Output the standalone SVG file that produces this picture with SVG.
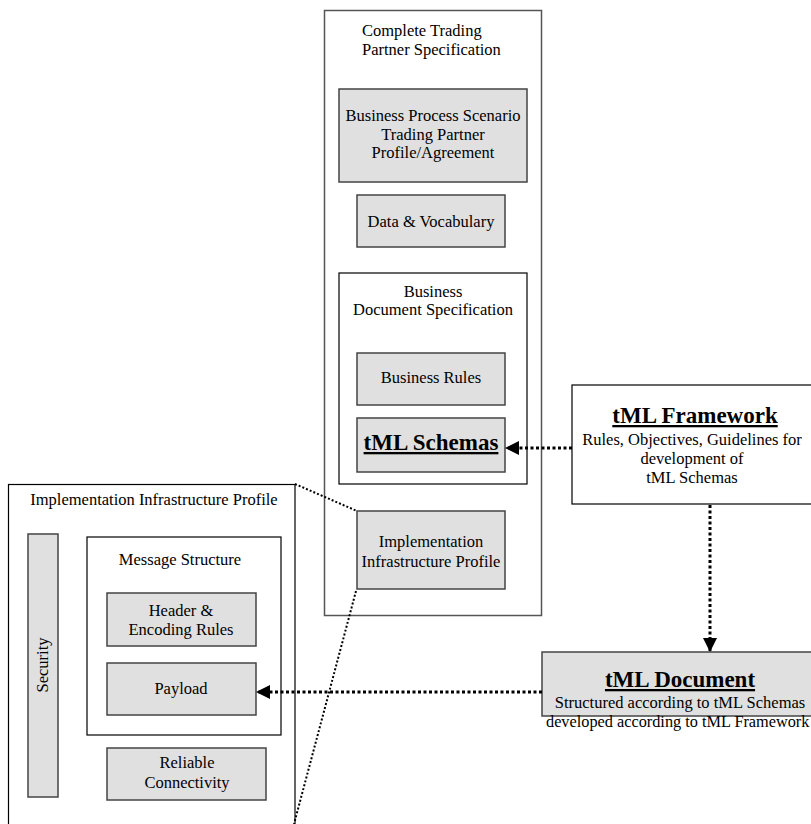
<svg xmlns="http://www.w3.org/2000/svg" width="811" height="824" viewBox="0 0 811 824">
<defs>
<style>
.t{font-family:"Liberation Serif","Times New Roman",serif;font-size:16.5px;fill:#000}
.c{text-anchor:middle}
.b{font-weight:bold;text-decoration:underline;font-size:23px}
.frame{fill:#fff;stroke:#555;stroke-width:1.5}
.frame2{fill:#fff;stroke:#000;stroke-width:1.2}
.shade{fill:#e0e0e0;stroke:#444;stroke-width:1.5}
.dot{fill:none;stroke:#000;stroke-width:3;stroke-dasharray:3 2.5}
.dotthin{fill:none;stroke:#000;stroke-width:2;stroke-dasharray:2 2}
</style>
<marker id="ah" viewBox="0 0 14 14" refX="13" refY="7" markerWidth="14" markerHeight="14" markerUnits="userSpaceOnUse" orient="auto">
<path d="M0,0 L14,7 L0,14 Z" fill="#000"/>
</marker>
</defs>
<rect width="811" height="824" fill="#fff"/>

<g id="trading-partner-spec">
<rect class="frame" x="324.5" y="10.5" width="217" height="605"/>
<text class="t" x="362" y="36">Complete Trading</text>
<text class="t" x="362" y="55">Partner Specification</text>
</g>
<g id="bps">
<rect class="shade" x="339" y="89" width="188" height="93"/>
<text class="t c" x="433" y="121">Business Process Scenario</text>
<text class="t c" x="433" y="140">Trading Partner</text>
<text class="t c" x="433" y="158">Profile/Agreement</text>
</g>
<g id="data-vocab">
<rect class="shade" x="357" y="195" width="148" height="52"/>
<text class="t c" x="431" y="227">Data &amp; Vocabulary</text>
</g>
<g id="business-doc-spec">
<rect class="frame2" x="339" y="273" width="188" height="211"/>
<text class="t c" x="433" y="297">Business</text>
<text class="t c" x="433" y="315">Document Specification</text>
</g>
<g id="business-rules">
<rect class="shade" x="357" y="353" width="148" height="52"/>
<text class="t c" x="431" y="383">Business Rules</text>
</g>
<g id="tml-schemas">
<rect class="shade" x="357" y="418" width="148" height="54"/>
<text class="t c b" x="431" y="450">tML Schemas</text>
</g>
<g id="impl-small">
<rect class="shade" x="357" y="511" width="148" height="78"/>
<text class="t c" x="431" y="547">Implementation</text>
<text class="t c" x="431" y="567">Infrastructure Profile</text>
</g>

<g id="tml-framework">
<rect class="frame2" x="572" y="385" width="245" height="119"/>
<text class="t c b" x="695" y="423">tML Framework</text>
<text class="t c" x="692" y="445">Rules, Objectives, Guidelines for</text>
<text class="t c" x="692" y="464">development of</text>
<text class="t c" x="692" y="483">tML Schemas</text>
</g>
<g id="tml-document">
<rect class="shade" x="542" y="652" width="278" height="64"/>
<text class="t c b" x="680" y="687">tML Document</text>
<text class="t c" x="680" y="708">Structured according to tML Schemas</text>
<text class="t" x="546" y="727" style="font-size:16.3px">developed according to tML Framework</text>
</g>

<g id="impl-profile">
<rect class="frame2" x="8.5" y="484.5" width="286.5" height="345"/>
<text class="t c" x="154" y="505">Implementation Infrastructure Profile</text>
</g>
<g id="security">
<rect class="shade" x="28" y="534" width="30" height="263"/>
<text class="t c" transform="translate(48,665) rotate(-90)">Security</text>
</g>
<g id="message-structure">
<rect class="frame2" x="87" y="537" width="194" height="198"/>
<text class="t c" x="180" y="565">Message Structure</text>
</g>
<g id="header">
<rect class="shade" x="107" y="593" width="149" height="53"/>
<text class="t c" x="181" y="616">Header &amp;</text>
<text class="t c" x="181" y="635">Encoding Rules</text>
</g>
<g id="payload">
<rect class="shade" x="107" y="663" width="149" height="52"/>
<text class="t c" x="181" y="694">Payload</text>
</g>
<g id="reliable">
<rect class="shade" x="107" y="748" width="159" height="52"/>
<text class="t c" x="187" y="768">Reliable</text>
<text class="t c" x="187" y="788">Connectivity</text>
</g>

<g id="connectors">
<line class="dot" x1="572" y1="448" x2="506" y2="448" marker-end="url(#ah)"/>
<line class="dot" x1="710" y1="505" x2="710" y2="651" marker-end="url(#ah)"/>
<line class="dot" x1="542" y1="692" x2="257" y2="692" marker-end="url(#ah)"/>
<line class="dotthin" x1="295" y1="484" x2="357" y2="511"/>
<line class="dotthin" x1="356" y1="591" x2="294" y2="824"/>
</g>
</svg>
